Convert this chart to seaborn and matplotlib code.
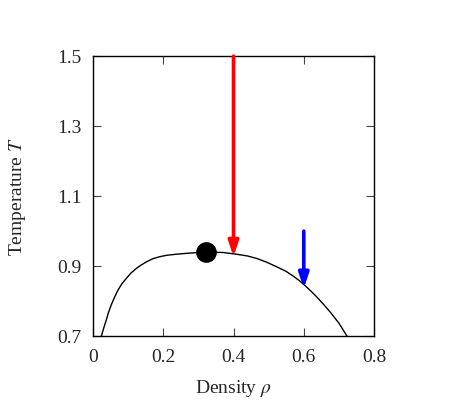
import matplotlib
matplotlib.use('Agg')
import pandas as pd
import matplotlib.pyplot as plt
import seaborn as sns

# coexistence curve
rho = [0.024, 0.031, 0.038, 0.044, 0.052, 0.061, 0.071, 0.082, 0.095, 0.108, 0.123,
       0.137, 0.152, 0.17, 0.19, 0.21, 0.237, 0.26, 0.285, 0.33, 0.37, 0.409, 0.44,
       0.466, 0.495, 0.523, 0.548, 0.571, 0.588, 0.604, 0.62, 0.637, 0.656, 0.675,
       0.70, 0.723]
temp = [0.70, 0.724, 0.746, 0.767, 0.789, 0.81, 0.831, 0.849, 0.865, 0.88, 0.893,
        0.903, 0.912, 0.921, 0.927, 0.931, 0.934, 0.936, 0.938, 0.94, 0.939, 0.934, 0.929,
        0.922, 0.911, 0.898, 0.886, 0.871, 0.858, 0.844, 0.829, 0.812, 0.791, 0.769,
        0.737, 0.70]

# critical point
crit_rho = [0.321]
crit_temp = [0.939]

# quench arrows: rho, T start, T end, colour
arrow_rho = [0.4, 0.6]
arrow_start = [1.5, 1.0]
arrow_end = [0.927, 0.836]
arrow_colors = ['red', 'blue']

sns.set_style('ticks')
plt.rcParams['font.family'] = ['Liberation Serif', 'DejaVu Serif']
plt.rcParams['mathtext.fontset'] = 'stix'

fig = plt.figure(figsize=(4.67, 4.16), dpi=100)
ax = fig.add_axes([0.199, 0.192, 0.602, 0.673])

df = pd.DataFrame({'rho': rho, 'T': temp})
sns.lineplot(data=df, x='rho', y='T', sort=False, estimator=None,
             color='black', linewidth=1.0, ax=ax)
sns.scatterplot(x=crit_rho, y=crit_temp, s=190, color='black',
                edgecolor='black', zorder=5, ax=ax)

for x0, y0, y1, c in zip(arrow_rho, arrow_start, arrow_end, arrow_colors):
    ax.annotate('', xy=(x0, y1), xytext=(x0, y0),
                arrowprops=dict(arrowstyle='-|>,head_length=0.9,head_width=0.3',
                                color=c, lw=2.6, shrinkA=0, shrinkB=0),
                annotation_clip=False)

ax.set_xlim(0, 0.8)
ax.set_ylim(0.7, 1.5)
ax.set_xticks([0, 0.2, 0.4, 0.6, 0.8])
ax.set_xticklabels(['0', '0.2', '0.4', '0.6', '0.8'])
ax.set_yticks([0.7, 0.9, 1.1, 1.3, 1.5])
ax.set_yticklabels(['0.7', '0.9', '1.1', '1.3', '1.5'])
ax.tick_params(direction='in', length=6, width=0.8, top=True, right=True,
               labelsize=14, color='#444444')
ax.tick_params(axis='x', pad=9)
ax.tick_params(axis='y', pad=8)
for sp in ax.spines.values():
    sp.set_linewidth(1.0)
    sp.set_color('black')

ax.set_xlabel(r'Density $\rho$', fontsize=14, labelpad=9)
ax.set_ylabel(r'Temperature $T$', fontsize=14, labelpad=21)

fig.savefig('out.png', dpi=100)
